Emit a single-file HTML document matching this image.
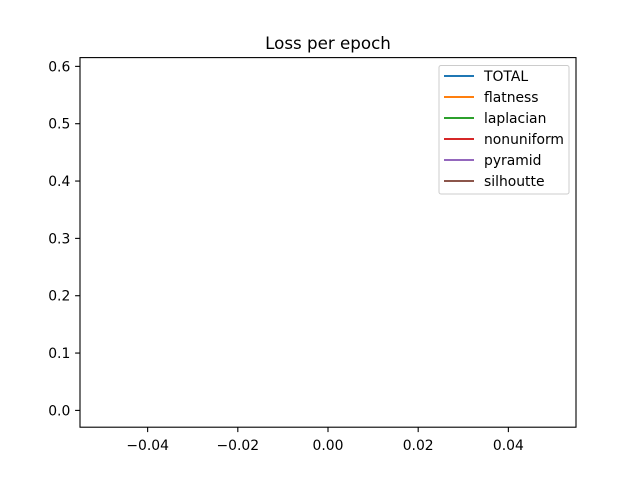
<!DOCTYPE html>
<html><head><meta charset="utf-8"><style>
body{margin:0;background:#fff}
svg text{font-family:"DejaVu Sans","Liberation Sans",sans-serif;fill:#000}
</style></head><body>
<svg width="640" height="480" xmlns="http://www.w3.org/2000/svg">
<rect width="640" height="480" fill="#fff"/>
<text x="328" y="49" font-size="16.7" text-anchor="middle">Loss per epoch</text>
<g id="plot"></g>
<g id="axes"></g>
<g id="legend"></g>
</svg>
<script>
const epochs = [0];
const seriesNames = ["TOTAL","flatness","laplacian","nonuniform","pyramid","silhoutte"];
const seriesColors = ["#1f77b4","#ff7f0e","#2ca02c","#d62728","#9467bd","#8c564b"];
const totalVals = [0.586];
const flatnessVals = [0.0];
const laplacianVals = [0.2];
const nonuniformVals = [0.1];
const pyramidVals = [0.15];
const silhoutteVals = [0.136];
const xTicks = [-0.04,-0.02,0.00,0.02,0.04];
const xTickLabels = ["\u22120.04","\u22120.02","0.00","0.02","0.04"];
const yTicks = [0,0.1,0.2,0.3,0.4,0.5,0.6];
const yTickLabels = ["0.0","0.1","0.2","0.3","0.4","0.5","0.6"];

const NS="http://www.w3.org/2000/svg";
const L=80,R=576,T=57.6,B=427.2;
const allVals=[totalVals,flatnessVals,laplacianVals,nonuniformVals,pyramidVals,silhoutteVals];
let xmin=Math.min(...epochs),xmax=Math.max(...epochs);
if(xmin===xmax){xmin-=0.055;xmax+=0.055}else{const d=(xmax-xmin)*0.05;xmin-=d;xmax+=d}
const flat=allVals.flat();
let ymin=Math.min(...flat),ymax=Math.max(...flat);
{const d=(ymax-ymin)*0.05||0.05;ymin-=d;ymax+=d}
const sx=v=>L+(v-xmin)/(xmax-xmin)*(R-L);
const sy=v=>B-(v-ymin)/(ymax-ymin)*(B-T);
function mk(tag,attrs,parent){const e=document.createElementNS(NS,tag);for(const k in attrs)e.setAttribute(k,attrs[k]);parent.appendChild(e);return e}
const plot=document.getElementById('plot'),axes=document.getElementById('axes'),leg=document.getElementById('legend');
allVals.forEach((vals,i)=>{
  const d=vals.map((v,j)=>(j?'L':'M')+sx(epochs[j])+' '+sy(v)).join(' ');
  const p=mk('path',{d:d,stroke:seriesColors[i],'stroke-width':2.1,fill:'none'},plot);
  
  
});
const frame=mk('rect',{x:L,y:T,width:R-L,height:B-T,fill:'none',stroke:'#000','stroke-width':1.1},axes);


xTicks.forEach((v,i)=>{
  const x=sx(v);
  const t=mk('line',{x1:x,x2:x,y1:B,y2:B+4.9,stroke:'#000','stroke-width':1.1},axes);
  
  
  const tx=mk('text',{x:x,y:B+23,'font-size':13.9,'text-anchor':'middle'},axes);
  tx.textContent=xTickLabels[i];
  
  
});
yTicks.forEach((v,i)=>{
  const y=sy(v);
  const t=mk('line',{x1:L-4.9,x2:L,y1:y,y2:y,stroke:'#000','stroke-width':1.1},axes);
  
  
  const tx=mk('text',{x:L-9.7,y:y+5,'font-size':13.9,'text-anchor':'end'},axes);
  tx.textContent=yTickLabels[i];
  
  
});
const box=mk('rect',{x:439,y:65.5,width:130,height:128.5,rx:2,fill:'#fff','fill-opacity':0.8,stroke:'#ccc','stroke-width':1},leg);


seriesNames.forEach((n,i)=>{
  const y=76+i*21;
  const g=mk('g',{},leg);
  
  
  mk('line',{x1:444,x2:474,y1:y,y2:y,stroke:seriesColors[i],'stroke-width':2.1},g);
  const t=mk('text',{x:484,y:y+5,'font-size':13.9},g);
  t.textContent=n;
});
</script>
</body></html>
